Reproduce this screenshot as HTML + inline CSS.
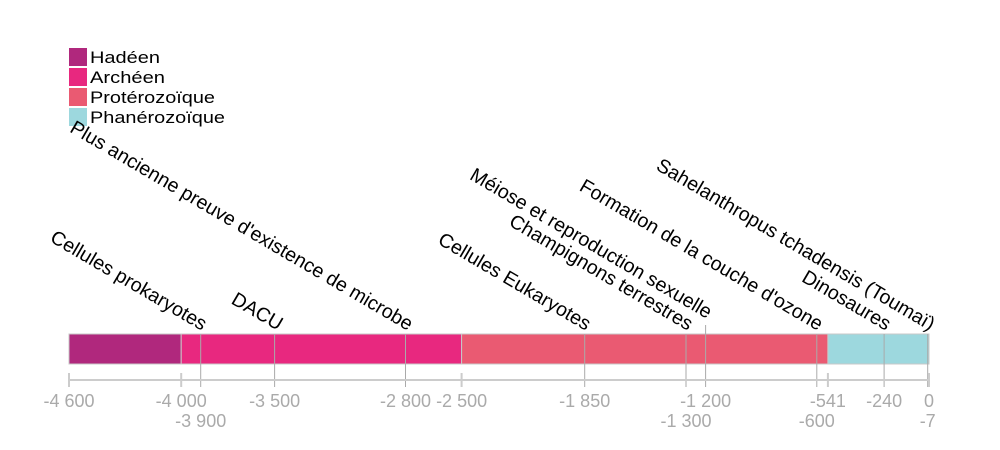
<!DOCTYPE html>
<html><head><meta charset="utf-8"><style>
html,body{margin:0;padding:0;background:#fff;}
svg{display:block;font-family:"Liberation Sans",sans-serif;}
</style></head><body>
<svg width="1000" height="450" viewBox="0 0 1000 450">
<g font-size="17" fill="#000">
<rect x="69" y="48" width="18" height="18" fill="#b0287d"/><text x="90" y="63" textLength="70" lengthAdjust="spacingAndGlyphs">Hadéen</text>
<rect x="69" y="68" width="18" height="18" fill="#e8287f"/><text x="90" y="83" textLength="75" lengthAdjust="spacingAndGlyphs">Archéen</text>
<rect x="69" y="88" width="18" height="18" fill="#ea5a72"/><text x="90" y="103" textLength="125" lengthAdjust="spacingAndGlyphs">Protérozoïque</text>
<rect x="69" y="108" width="18" height="18" fill="#9dd8de"/><text x="90" y="123" textLength="135" lengthAdjust="spacingAndGlyphs">Phanérozoïque</text>
</g>
<g stroke="#c8c8c8" stroke-width="1">
<rect x="69" y="334" width="112.2" height="30" fill="#b0287d"/>
<rect x="181.2" y="334" width="280.4" height="30" fill="#e8287f"/>
<rect x="461.6" y="334" width="366.3" height="30" fill="#ea5a72"/>
<rect x="827.9" y="334" width="101.1" height="30" fill="#9dd8de"/>
</g>
<g stroke="#aaa" stroke-width="1">
<line x1="200.7" y1="334" x2="200.7" y2="387"/>
<line x1="274.6" y1="334" x2="274.6" y2="387"/>
<line x1="405.5" y1="334" x2="405.5" y2="387"/>
<line x1="584.7" y1="334" x2="584.7" y2="387"/>
<line x1="686" y1="334" x2="686" y2="387"/>
<line x1="705.6" y1="325" x2="705.6" y2="387"/>
<line x1="816.8" y1="334" x2="816.8" y2="387"/>
<line x1="884.1" y1="334" x2="884.1" y2="387"/>
<line x1="927.7" y1="334" x2="927.7" y2="387"/>
</g>
<g stroke="#ccc" stroke-width="2">
<line x1="69" y1="380" x2="929" y2="380"/>
<line x1="69" y1="373" x2="69" y2="387"/>
<line x1="181.2" y1="373" x2="181.2" y2="387"/>
<line x1="461.6" y1="373" x2="461.6" y2="387"/>
<line x1="827.9" y1="373" x2="827.9" y2="387"/>
<line x1="929" y1="373" x2="929" y2="387"/>
</g>
<g font-size="18" fill="#aaa" text-anchor="middle">
<text x="69" y="407">-4 600</text>
<text x="181.2" y="407">-4 000</text>
<text x="200.7" y="427">-3 900</text>
<text x="274.6" y="407">-3 500</text>
<text x="405.5" y="407">-2 800</text>
<text x="461.6" y="407">-2 500</text>
<text x="584.7" y="407">-1 850</text>
<text x="686" y="427">-1 300</text>
<text x="705.6" y="407">-1 200</text>
<text x="827.9" y="407">-541</text>
<text x="816.8" y="427">-600</text>
<text x="884.1" y="407">-240</text>
<text x="929" y="407">0</text>
<text x="927.7" y="427">-7</text>
</g>
<g font-size="19.6" fill="#000" text-anchor="end">
<text transform="translate(202,331) rotate(30.5)">Cellules prokaryotes</text>
<text transform="translate(278,331) rotate(30.5)">DACU</text>
<text transform="translate(408,331) rotate(30.5)">Plus ancienne preuve d'existence de microbe</text>
<text transform="translate(586,331) rotate(30.5)">Cellules Eukaryotes</text>
<text transform="translate(688,331) rotate(30.5)">Champignons terrestres</text>
<text transform="translate(707,319) rotate(30.5)">Méiose et reproduction sexuelle</text>
<text transform="translate(818,331) rotate(30.5)">Formation de la couche d'ozone</text>
<text transform="translate(886,331) rotate(30.5)">Dinosaures</text>
<text transform="translate(930,331) rotate(30.5)">Sahelanthropus tchadensis (Toumaï)</text>
</g>
</svg>
</body></html>
